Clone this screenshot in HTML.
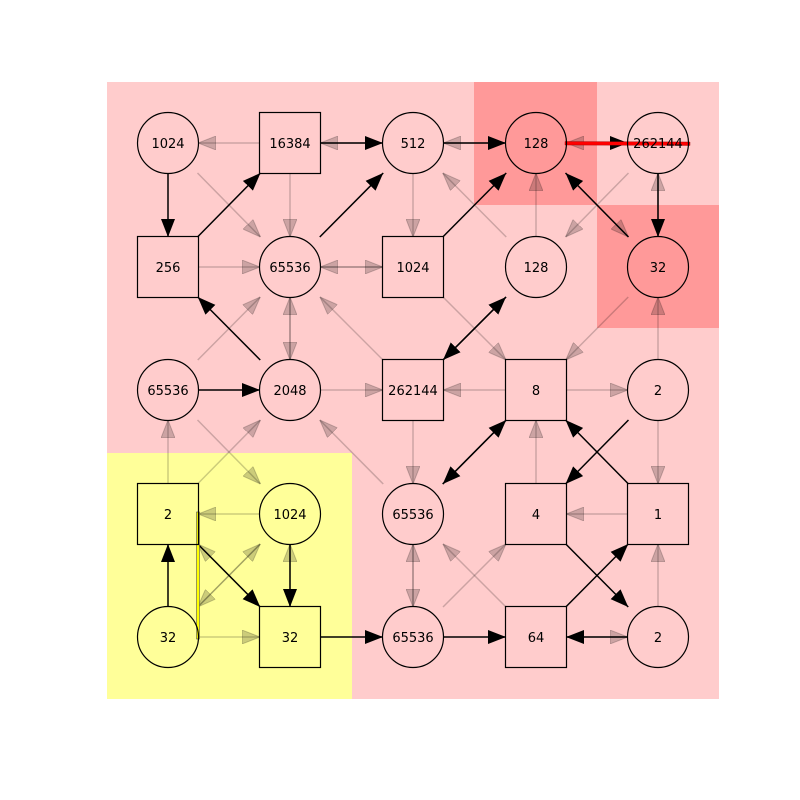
<!DOCTYPE html>
<html><head><meta charset="utf-8"><style>
body{margin:0;background:#fff}
svg{display:block}
text{font-family:"DejaVu Sans","Liberation Sans",sans-serif;font-size:13px}
</style></head><body>
<svg id="chart" width="800" height="800" viewBox="0 0 800 800">
<defs>
<marker id="hb" viewBox="0 0 18 14" refX="18" refY="7" markerWidth="18" markerHeight="14" markerUnits="userSpaceOnUse" orient="auto"><path d="M0,0 L18,7 L0,14 Z" fill="#000"/></marker>
<marker id="hf" viewBox="0 0 18 14" refX="18" refY="7" markerWidth="18" markerHeight="14" markerUnits="userSpaceOnUse" orient="auto"><path d="M0,0 L18,7 L0,14 Z" fill="rgba(0,0,0,0.2)" stroke="rgba(0,0,0,0.2)"/></marker>
</defs>
<rect x="107" y="82" width="612" height="617" fill="#ffcccc"/>
<rect x="107" y="453" width="245" height="246" fill="#ffff99"/>
<rect x="474" y="82" width="123" height="123" fill="#ff9999"/>
<rect x="597" y="205" width="122" height="123" fill="#ff9999"/>
<g id="edges"></g>
<g id="nodes"></g>
</svg>
<script>
const colsX=[168,290,413,536,658];
const rowsY=[143,267,390,514,637];
const nodeLabels=[
["1024","16384","512","128","262144"],
["256","65536","1024","128","32"],
["65536","2048","262144","8","2"],
["2","1024","65536","4","1"],
["32","32","65536","64","2"]];
const nodeShapes=[
["c","s","c","c","c"],
["s","c","s","c","c"],
["c","c","s","s","c"],
["s","c","c","s","s"],
["c","s","c","s","c"]];
// [fromRow,fromCol,toRow,toCol]
const blackEdges=[
[0,1,0,2],[0,2,0,3],[0,3,0,4],[0,0,1,0],[1,0,0,1],[1,1,0,2],[1,2,0,3],[1,4,0,3],[0,4,1,4],
[2,1,1,0],[2,0,2,1],[2,2,1,3],[1,3,2,2],[2,3,3,2],[3,2,2,3],[2,4,3,3],[3,4,2,3],
[4,0,3,0],[3,0,4,1],[3,1,4,1],[4,1,4,2],[4,2,4,3],[4,4,4,3],[4,3,3,4],[3,3,4,4]];
const fadedEdges=[
[0,1,0,0],[0,2,0,1],[0,3,0,2],[0,4,0,3],[0,0,1,1],[0,1,1,1],[0,2,1,2],[1,3,0,2],[1,3,0,3],[0,4,1,3],[0,3,1,4],[1,4,0,4],
[1,0,1,1],[1,1,1,2],[1,2,1,1],[2,0,1,1],[1,1,2,1],[2,1,1,1],[2,2,1,1],[1,2,2,3],[1,4,2,3],[2,4,1,4],
[2,1,2,2],[2,3,2,2],[2,3,2,4],[2,0,3,1],[3,0,2,0],[3,0,2,1],[3,2,2,1],[2,2,3,2],[3,3,2,3],[2,4,3,4],
[3,1,3,0],[3,4,3,3],[4,0,3,1],[3,1,4,0],[4,1,3,0],[4,1,3,1],[4,0,4,1],[4,2,3,2],[3,2,4,2],[4,2,3,3],[4,3,3,2],[4,4,3,4],[4,3,4,4]];
const NS="http://www.w3.org/2000/svg";
const eg=document.getElementById('edges'), ng=document.getElementById('nodes');
function ends(e){
  const x1=colsX[e[1]],y1=rowsY[e[0]],x2=colsX[e[3]],y2=rowsY[e[2]];
  const dx=x2-x1,dy=y2-y1,t=30/Math.max(Math.abs(dx),Math.abs(dy));
  return [x1+dx*t,y1+dy*t,x2-dx*t,y2-dy*t];
}
function drawEdge(e,faded){
  const p=ends(e);
  const l=document.createElementNS(NS,'line');
  l.setAttribute('x1',p[0]);l.setAttribute('y1',p[1]);l.setAttribute('x2',p[2]);l.setAttribute('y2',p[3]);
  l.setAttribute('stroke',faded?'rgba(0,0,0,0.2)':'#000');
  l.setAttribute('stroke-width',1.5);
  l.setAttribute('marker-end',faded?'url(#hf)':'url(#hb)');
  
  
  eg.appendChild(l);
}
fadedEdges.forEach(e=>drawEdge(e,true));
blackEdges.forEach(e=>drawEdge(e,false));
const red=document.createElementNS(NS,'polygon');
red.setAttribute('points','565,141.5 690,142 690,145.5 565,145');
red.setAttribute('fill','#ff0000');red.setAttribute('stroke','#900');red.setAttribute('stroke-width',0.4);


eg.appendChild(red);
const yl=document.createElementNS(NS,'rect');
yl.setAttribute('x',196.5);yl.setAttribute('y',512);yl.setAttribute('width',3);yl.setAttribute('height',127);
yl.setAttribute('fill','#ffff00');yl.setAttribute('stroke','#555');yl.setAttribute('stroke-width',0.6);


eg.appendChild(yl);
for(let r=0;r<5;r++)for(let c=0;c<5;c++){
  const x=colsX[c],y=rowsY[r];
  let s;
  if(nodeShapes[r][c]==='c'){s=document.createElementNS(NS,'circle');s.setAttribute('cx',x);s.setAttribute('cy',y);s.setAttribute('r',30.5);}
  else{s=document.createElementNS(NS,'rect');s.setAttribute('x',x-30.5);s.setAttribute('y',y-30.5);s.setAttribute('width',61);s.setAttribute('height',61);}
  s.setAttribute('fill','none');s.setAttribute('stroke','#000');s.setAttribute('stroke-width',1.2);
  
  
  ng.appendChild(s);
  const t=document.createElementNS(NS,'text');
  t.setAttribute('x',x);t.setAttribute('y',y+5);t.setAttribute('text-anchor','middle');
  t.textContent=nodeLabels[r][c];
  
  
  ng.appendChild(t);
}
</script>
</body></html>
